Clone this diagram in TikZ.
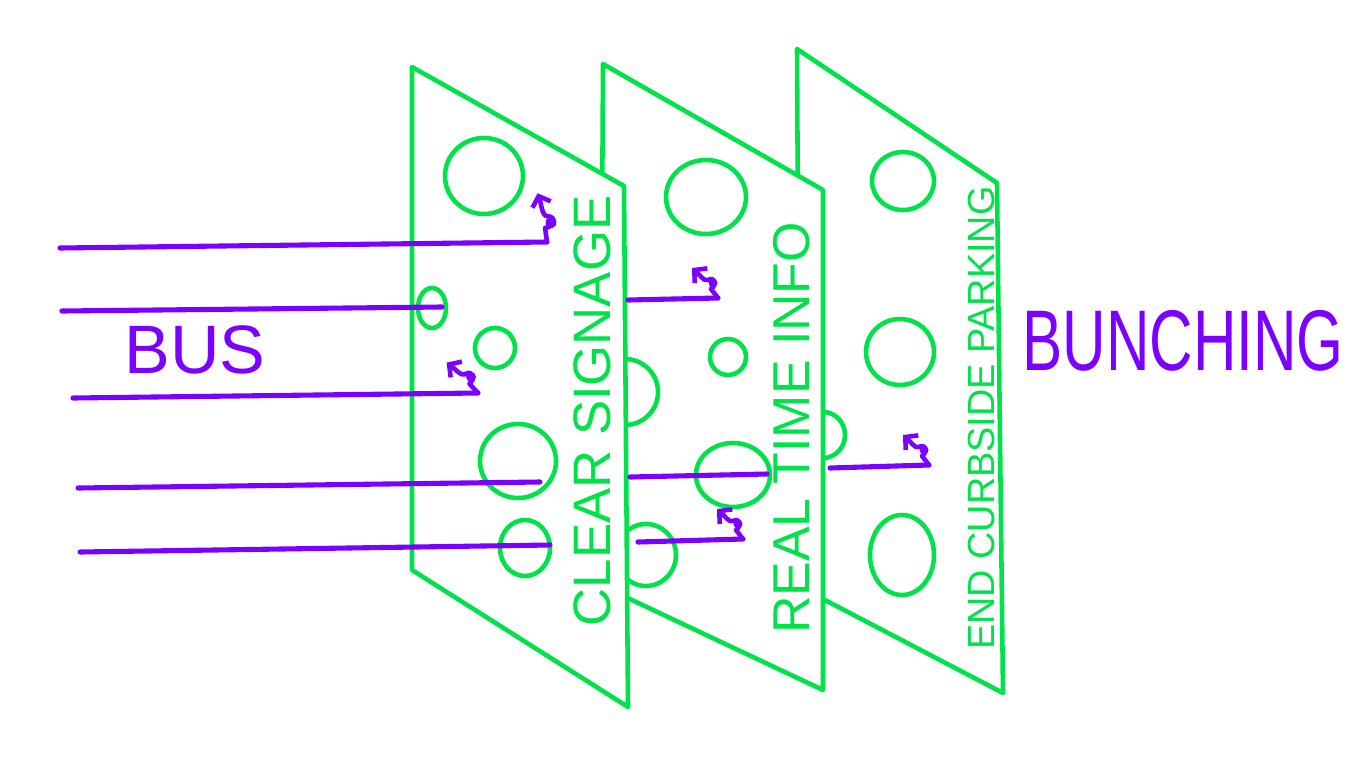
\documentclass[tikz,border=0pt]{standalone}
\usepackage{fontspec}
\setmainfont{Liberation Sans}
\usepackage{xcolor}
\usepackage{tikz}
\usetikzlibrary{arrows.meta}
\definecolor{slicegreen}{HTML}{00E24A}
\definecolor{buspurple}{HTML}{7B00FF}

\begin{document}
\begin{tikzpicture}[x=0.02cm, y=-0.02cm,
  slice/.style={draw=slicegreen, fill=white, line width=2.6pt, line join=round},
  hole/.style={draw=slicegreen, line width=2.6pt},
  ray/.style={draw=buspurple, line width=2.9pt, line cap=round},
  slicelabel/.style={text=slicegreen, rotate=90, inner sep=0pt},
  buslabel/.style={text=buspurple, inner sep=0pt},
  bounce/.pic={
    \draw[buspurple, line width=2.6pt, line cap=round, line join=round,
          -{Straight Barb[length=5pt, width=11pt]}]
      (0,0) -- (-7,-9) .. controls (-1,-13) and (-3,-22) .. (-10,-18)
      .. controls (-14,-16) and (-19,-24) .. (-26,-30);
    \fill[buspurple] (-5,-15) circle (4.5);
  }]
  \useasboundingbox (0,0) rectangle (1366,768);

  % back slice
  \draw[slice] (797,49) -- (997,183) -- (1003,693) -- (800,587) -- cycle;
  \draw[hole] (903,181) ellipse [x radius=31, y radius=29];
  \draw[hole] (900,352) ellipse [x radius=34, y radius=33];
  \draw[hole] (823,435) ellipse [x radius=22, y radius=23];
  \draw[hole] (902,555) ellipse [x radius=32, y radius=40];

  % middle slice
  \draw[slice] (603,64) -- (823,190) -- (823,690) -- (600,585) -- cycle;
  \draw[hole] (706,197) ellipse [x radius=40, y radius=37];
  \draw[hole] (728,357) ellipse [x radius=18, y radius=18];
  \draw[hole] (625,392) ellipse [x radius=33, y radius=33];
  \draw[hole] (733,475) ellipse [x radius=37, y radius=32];
  \draw[hole] (646,555) ellipse [x radius=30, y radius=31];

  % front slice
  \draw[slice] (412,67) -- (624,186) -- (628,707) -- (412,570) -- cycle;
  \draw[hole] (484,176) ellipse [x radius=39, y radius=38];
  \draw[hole] (432,308) ellipse [x radius=14, y radius=20];
  \draw[hole] (495,348) ellipse [x radius=20, y radius=20];
  \draw[hole] (518,461) ellipse [x radius=38, y radius=37];
  \draw[hole] (525,548) ellipse [x radius=25, y radius=28];

  % buses
  \coordinate (b1) at (60,248);   \coordinate (e1) at (547,242);
  \coordinate (b2) at (62,311);   \coordinate (e2) at (442,307);
  \coordinate (b3) at (73,398);   \coordinate (e3) at (478,393);
  \coordinate (b4) at (78,488);   \coordinate (e4) at (540,482);
  \coordinate (b5) at (80,552);   \coordinate (e5) at (550,545);
  \coordinate (b6) at (628,300);  \coordinate (e6) at (718,298);
  \coordinate (b7) at (630,477);  \coordinate (e7) at (767,474);
  \coordinate (b8) at (638,542);  \coordinate (e8) at (743,539);
  \coordinate (b9) at (830,468);  \coordinate (e9) at (929,465);

  \draw[ray] (b1) -- (e1);
  \draw[ray] (b2) -- (e2);
  \draw[ray] (b3) -- (e3);
  \draw[ray] (b4) -- (e4);
  \draw[ray] (b5) -- (e5);
  \draw[ray] (b6) -- (e6);
  \draw[ray] (b7) -- (e7);
  \draw[ray] (b8) -- (e8);
  \draw[ray] (b9) -- (e9);

  \pic[rotate=-30, scale=1.25] at (e1) {bounce};
  \pic[rotate=5, scale=1.1] at (e3) {bounce};
  \pic at (e6) {bounce};
  \pic at (e8) {bounce};
  \pic at (e9) {bounce};

  % labels
  \node[slicelabel, font=\fontsize{30}{30}\selectfont] (signage) at (592,411) {CLEAR SIGNAGE};
  \node[slicelabel, font=\fontsize{29.5}{30}\selectfont] (realtime) at (792,428) {REAL TIME INFO};
  \node[slicelabel, font=\fontsize{21.5}{22}\selectfont] (curbside) at (981,418) {END CURBSIDE PARKING};
  \node[buslabel, font=\fontsize{39}{40}\selectfont] (bus) at (195,350) {BUS};
  \node[buslabel, font=\fontsize{49}{50}\selectfont, xscale=0.7] (bunching) at (1183,341) {BUNCHING};
\end{tikzpicture}
\end{document}
